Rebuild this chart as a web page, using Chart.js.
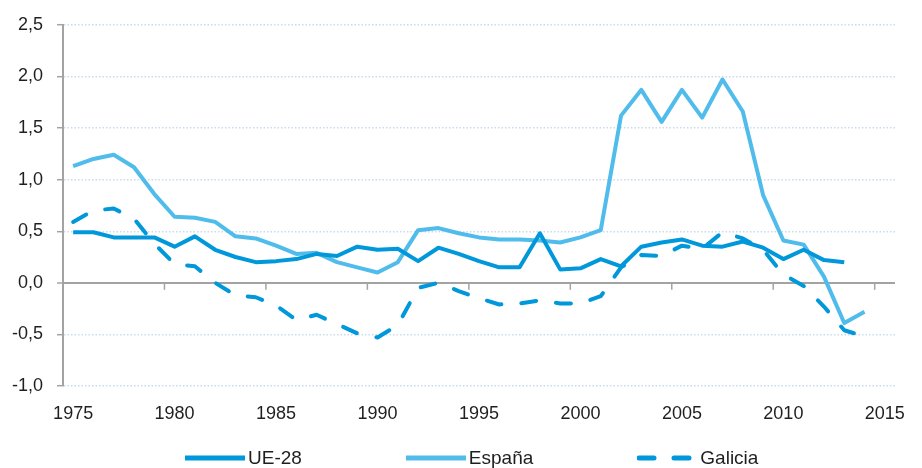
<!DOCTYPE html>
<html>
<head>
<meta charset="utf-8">
<script src="https://cdn.jsdelivr.net/npm/chart.js@4.4.1/dist/chart.umd.min.js"></script>
<style>
  html, body { margin: 0; padding: 0; background: #fff; }
  #wrap { position: relative; width: 922px; height: 468px; }
  #legend {
    position: absolute; left: 185px; top: 446px;
    display: flex; align-items: center; gap: 104px;
    font: 19px "Liberation Sans", Arial, sans-serif; color: #1f1f1f;
  }
  .item { display: flex; align-items: center; height: 24px; }
  .item svg { margin-right: 3px; }
</style>
</head>
<body>
<div id="wrap">
  <canvas id="chart" width="922" height="468"></canvas>
  <div id="legend"></div>
</div>
<script>
/* ---------------------------------------------------------------- DATA */
var years = ['1975','1976','1977','1978','1979','1980','1981','1982','1983','1984',
             '1985','1986','1987','1988','1989','1990','1991','1992','1993','1994',
             '1995','1996','1997','1998','1999','2000','2001','2002','2003','2004',
             '2005','2006','2007','2008','2009','2010','2011','2012','2013','2014','2015'];

var ue28 = [0.49, 0.49, 0.44, 0.44, 0.44, 0.35, 0.45, 0.32, 0.25, 0.20,
            0.21, 0.23, 0.28, 0.26, 0.35, 0.32, 0.33, 0.21, 0.34, 0.28,
            0.21, 0.15, 0.15, 0.48, 0.13, 0.14, 0.23, 0.16, 0.35, 0.39,
            0.42, 0.36, 0.35, 0.40, 0.34, 0.23, 0.32, 0.22, 0.20, null, null];

var espana = [1.13, 1.20, 1.24, 1.12, 0.86, 0.64, 0.63, 0.59, 0.45, 0.43,
              0.36, 0.28, 0.29, 0.20, 0.15, 0.10, 0.20, 0.51, 0.53, 0.48,
              0.44, 0.42, 0.42, 0.41, 0.39, 0.44, 0.51, 1.62, 1.87, 1.56,
              1.87, 1.60, 1.97, 1.66, 0.85, 0.41, 0.37, 0.06, -0.39, -0.28, null];

var galicia = [0.59, 0.70, 0.72, 0.62, 0.38, 0.18, 0.16, 0.00, -0.12, -0.14,
               -0.22, -0.36, -0.31, -0.40, -0.49, -0.53, -0.41, -0.05, 0.00, -0.08,
               -0.15, -0.21, -0.20, -0.17, -0.20, -0.20, -0.13, 0.15, 0.27, 0.26,
               0.36, 0.33, 0.49, 0.43, 0.32, 0.08, -0.03, -0.23, -0.46, -0.52, null];

var seriesNames = ['UE-28', 'España', 'Galicia'];

/* ---------------------------------------------------------------- STYLE */
var darkBlue = '#0098da';
var lightBlue = '#50bceb';
var axisGrey = '#a3a3a3';
var gridBlue = '#c9dbee';
var textColor = '#1f1f1f';
var fontFamily = '"Liberation Sans", Arial, sans-serif';

// tick marks hanging under the zero line, every 5 years
var zeroTicks = {
    id: 'zeroTicks',
    beforeDatasetsDraw: function(chart) {
        var x = chart.scales.x, y = chart.scales.y, ctx = chart.ctx;
        var y0 = y.getPixelForValue(0);
        var half = (x.getPixelForValue(1) - x.getPixelForValue(0)) / 2;
        ctx.save();
        ctx.strokeStyle = axisGrey;
        ctx.lineWidth = 1.5;
        years.forEach(function(yr, i) {
            if (i % 5) return;
            var px = x.getPixelForValue(i) - half;
            ctx.beginPath();
            ctx.moveTo(px, y0);
            ctx.lineTo(px, y0 + 7);
            ctx.stroke();
        });
        ctx.restore();
    }
};

/* ---------------------------------------------------------------- CHART */
var chart = new Chart(document.getElementById('chart').getContext('2d'), {
    type: 'line',
    data: {
        labels: years,
        datasets: [{
            label: seriesNames[0],
            data: ue28,
            borderColor: darkBlue,
            borderWidth: 4
        }, {
            label: seriesNames[1],
            data: espana,
            borderColor: lightBlue,
            borderWidth: 4
        }, {
            label: seriesNames[2],
            data: galicia,
            borderColor: darkBlue,
            borderWidth: 4,
            borderDash: [15, 20],
            borderCapStyle: 'round'
        }]
    },
    options: {
        responsive: false,
        animation: false,
        elements: {
            point: { radius: 0 },
            line: { tension: 0, borderJoinStyle: 'round' }
        },
        layout: { padding: { top: 23, right: 12, left: 0, bottom: 0 } },
        plugins: {
            legend: { display: false },
            tooltip: { enabled: false }
        },
        scales: {
            x: {
                offset: true,
                grid: { display: false, drawTicks: false, tickLength: 0 },
                border: { display: false },
                ticks: {
                    autoSkip: false,
                    maxRotation: 0,
                    padding: 17,
                    color: textColor,
                    font: { family: fontFamily, size: 18 },
                    callback: function(v, i) { return i % 5 === 0 ? years[i] : ''; }
                },
                afterFit: function(scale) { scale.height = 82; }
            },
            y: {
                min: -1,
                max: 2.5,
                grid: {
                    color: function(c) { return c.tick && c.tick.value === 0 ? axisGrey : gridBlue; },
                    lineWidth: function(c) { return c.tick && c.tick.value === 0 ? 2 : 1.4; },
                    tickColor: axisGrey,
                    tickLength: 6,
                    tickWidth: 1.5,
                    tickBorderDash: []
                },
                border: {
                    color: axisGrey,
                    width: 2,
                    dash: function(c) { return (c.type === 'tick' && c.tick.value !== 0) ? [1.5, 2] : []; }
                },
                ticks: {
                    stepSize: 0.5,
                    padding: 14,
                    color: textColor,
                    font: { family: fontFamily, size: 18 },
                    callback: function(v) { return v.toFixed(1).replace('.', ','); }
                },
                afterFit: function(scale) { scale.width = 63; }
            }
        }
    },
    plugins: [zeroTicks]
});

/* ---------------------------------------------------------------- LEGEND */
var legend = document.getElementById('legend');
chart.data.datasets.forEach(function(ds) {
    var dash = ds.borderDash ? ' stroke-dasharray="15 20" stroke-linecap="round"' : '';
    var start = ds.borderDash ? 2 : 0;
    var item = document.createElement('div');
    item.className = 'item';
    item.innerHTML = '<svg width="60" height="10"><line x1="' + start + '" y1="5" x2="60" y2="5" stroke="' +
        ds.borderColor + '" stroke-width="5"' + dash + '/></svg><span>' + ds.label + '</span>';
    legend.appendChild(item);
});
</script>
</body>
</html>
